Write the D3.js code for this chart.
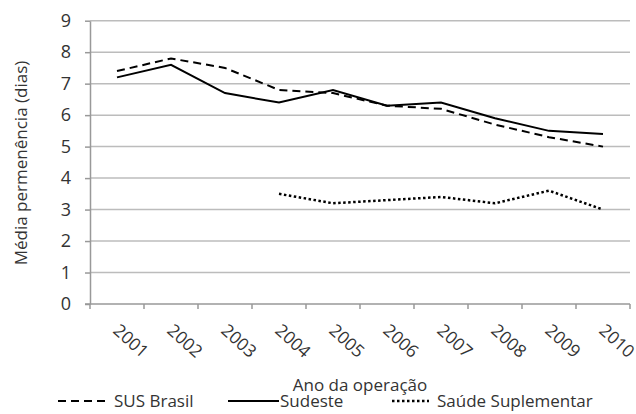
<!DOCTYPE html>
<html>
<head>
<meta charset="utf-8">
<script src="https://cdn.jsdelivr.net/npm/d3@7"></script>
<style>
  body { margin: 0; background: #fff; }
  text { font-family: "Open Sans", sans-serif; fill: #333; }
</style>
</head>
<body>
<svg class="chart" width="636" height="414"></svg>
<script>
var years = ["2001","2002","2003","2004","2005","2006","2007","2008","2009","2010"];
var susBrasil = [7.4, 7.8, 7.5, 6.8, 6.7, 6.3, 6.2, 5.7, 5.3, 5.0];
var sudeste = [7.2, 7.6, 6.7, 6.4, 6.8, 6.3, 6.4, 5.9, 5.5, 5.4];
var saudeSuplementar = [null, null, null, 3.5, 3.2, 3.3, 3.4, 3.2, 3.6, 3.0];
var yTicks = [0, 1, 2, 3, 4, 5, 6, 7, 8, 9];

var svg = d3.select(".chart");
var plotLeft = 90, plotRight = 630, plotTop = 20.7, plotBottom = 304;

var x = d3.scaleBand().domain(years).range([plotLeft, plotRight]).padding(0);
var y = d3.scaleLinear().domain([0, 9]).range([plotBottom, plotTop]);

// grid
svg.append("g").selectAll("line").data(yTicks.slice(1)).enter().append("line")
  .attr("x1", plotLeft).attr("x2", plotRight)
  .attr("y1", function(d) { return y(d); }).attr("y2", function(d) { return y(d); })
  .attr("stroke", "#bcbcbc").attr("stroke-width", 1.5);

// y axis
var yAxis = svg.append("g").attr("transform", "translate(" + plotLeft + ",0)")
  .call(d3.axisLeft(y).tickValues(yTicks).tickSize(5).tickPadding(14).tickSizeOuter(0));
yAxis.select(".domain").attr("stroke", "#999").attr("stroke-width", 1.5);
yAxis.selectAll(".tick line").attr("stroke", "#999").attr("stroke-width", 1.5);
yAxis.selectAll("text").attr("font-size", 18).attr("fill", "#333");

// x axis
var xAxis = svg.append("g").attr("transform", "translate(0," + plotBottom + ")")
  .call(d3.axisBottom(x).tickSize(0).tickSizeOuter(0));
xAxis.select(".domain").attr("d", "M" + (plotLeft - 5) + ",0H" + plotRight).attr("stroke", "#999").attr("stroke-width", 1.5);
xAxis.selectAll(".tick text")
  .attr("font-size", 17.5).attr("fill", "#333")
  .attr("text-anchor", "start").attr("dy", null).attr("y", 0)
  .attr("transform", "translate(-5,28) rotate(42)");
// category boundary ticks
svg.append("g").selectAll("line").data(years.concat(["end"])).enter().append("line")
  .attr("x1", function(d, i) { return plotLeft + i * x.bandwidth(); })
  .attr("x2", function(d, i) { return plotLeft + i * x.bandwidth(); })
  .attr("y1", plotBottom).attr("y2", plotBottom + 5)
  .attr("stroke", "#999").attr("stroke-width", 1.5);

// lines
var cx = function(d, i) { return x(years[i]) + x.bandwidth() / 2; };
var line = d3.line().defined(function(d) { return d != null; })
  .x(cx).y(function(d) { return y(d); });

var series = [
  { values: susBrasil, dash: "8,5", w: 2 },
  { values: sudeste, dash: null, w: 2 },
  { values: saudeSuplementar, dash: "2.5,2.5", w: 2.5 }
];
series.forEach(function(s) {
  svg.append("path").attr("d", line(s.values))
    .attr("fill", "none").attr("stroke", "#000").attr("stroke-width", s.w)
    .attr("stroke-dasharray", s.dash);
});

// axis titles
svg.append("text").attr("x", 360).attr("y", 391).attr("text-anchor", "middle")
  .attr("font-size", 17).text("Ano da operação");
svg.append("text").attr("transform", "translate(27,163) rotate(-90)")
  .attr("text-anchor", "middle").attr("font-size", 17).text("Média permenência (dias)");

// legend
var legend = [
  { name: "SUS Brasil", dash: "8,5", w: 2, x1: 58, x2: 108, tx: 114 },
  { name: "Sudeste", dash: null, w: 2, x1: 228, x2: 279, tx: 280 },
  { name: "Saúde Suplementar", dash: "2.5,2.5", w: 2.5, x1: 392, x2: 429, tx: 437 }
];
legend.forEach(function(l) {
  svg.append("line").attr("x1", l.x1).attr("x2", l.x2).attr("y1", 401).attr("y2", 401)
    .attr("stroke", "#000").attr("stroke-width", l.w).attr("stroke-dasharray", l.dash);
  svg.append("text").attr("x", l.tx).attr("y", 407).attr("font-size", 17).text(l.name);
});
</script>
</body>
</html>
